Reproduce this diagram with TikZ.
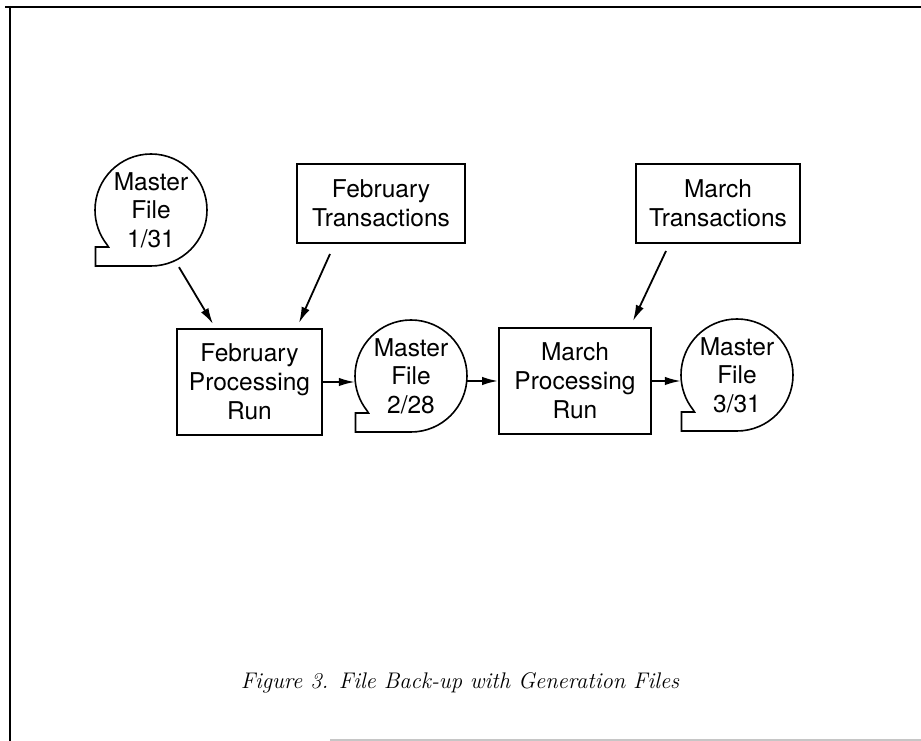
\documentclass[tikz,border=0pt]{standalone}
\usepackage{fontspec}
\newfontfamily\nodefont{TeX Gyre Heros}
\usetikzlibrary{arrows.meta}
\tikzset{
  frameline/.style={line width=2pt},
  boxnode/.style={draw, line width=2pt, rectangle, inner sep=0pt, align=center,
    font=\nodefont\fontsize{24.5}{29}\selectfont},
  tapenode/.style={circle, minimum size=112pt, inner sep=0pt, align=center,
    font=\nodefont\fontsize{24.5}{28.5}\selectfont},
  tapeline/.style={line width=1.6pt},
  flow/.style={line width=1.8pt, -{Latex[length=16pt,width=8.5pt]}},
}
\begin{document}
\begin{tikzpicture}[x=1pt,y=1pt]
\useasboundingbox (0,0) rectangle (921,741);
% frame
\draw[frameline] (5,734) -- (921,734);
\draw[frameline] (10,735) -- (10,0);
\draw[line width=1.5pt, gray!45] (330,1) -- (921,1);
% nodes
\node[tapenode] (m1) at (151,531) {Master\\File\\1/31};
\node[tapenode] (m2) at (411,365) {Master\\File\\2/28};
\node[tapenode] (m3) at (737,366) {Master\\File\\3/31};
\node[boxnode, minimum width=168pt, minimum height=79pt] (ft) at (381,537.5) {February\\Transactions};
\node[boxnode, minimum width=164pt, minimum height=79pt] (mt) at (718,537.5) {March\\Transactions};
\node[boxnode, minimum width=145pt, minimum height=106pt] (fp) at (249.5,359) {February\\Processing\\Run};
\node[boxnode, minimum width=152pt, minimum height=106pt] (mp) at (575,360) {March\\Processing\\Run};
% tape outlines
\foreach \n in {m1,m2,m3}{
  \draw[tapeline] ([yshift=-56pt]\n.center) arc[start angle=270, end angle=578, radius=56pt]
    -- ([xshift=-42.5pt,yshift=-37pt]\n.center)
    -- ([xshift=-55.5pt,yshift=-37pt]\n.center)
    -- ([xshift=-55.5pt,yshift=-56pt]\n.center)
    -- cycle;
}
% connectors
\draw[flow] ([xshift=28pt,yshift=-1pt]m1.south) -- ([xshift=-36.5pt,yshift=4pt]fp.north);
\draw[flow] ([xshift=-51pt,yshift=-10pt]ft.south) -- ([xshift=49.5pt,yshift=5pt]fp.north);
\draw[flow] ([xshift=-52pt,yshift=-7pt]mt.south) -- ([xshift=58pt,yshift=6pt]mp.north);
\draw[flow] (fp.east) -- (fp.east -| m2.west);
\draw[flow] (mp.west -| m2.east) -- (mp.west);
\draw[flow] (mp.east) -- (mp.east -| m3.west);
% caption
\node[font=\itshape\fontsize{22.6}{26}\selectfont] (cap) at (460,58) {Figure 3. File Back-up with Generation Files};
\end{tikzpicture}
\end{document}
